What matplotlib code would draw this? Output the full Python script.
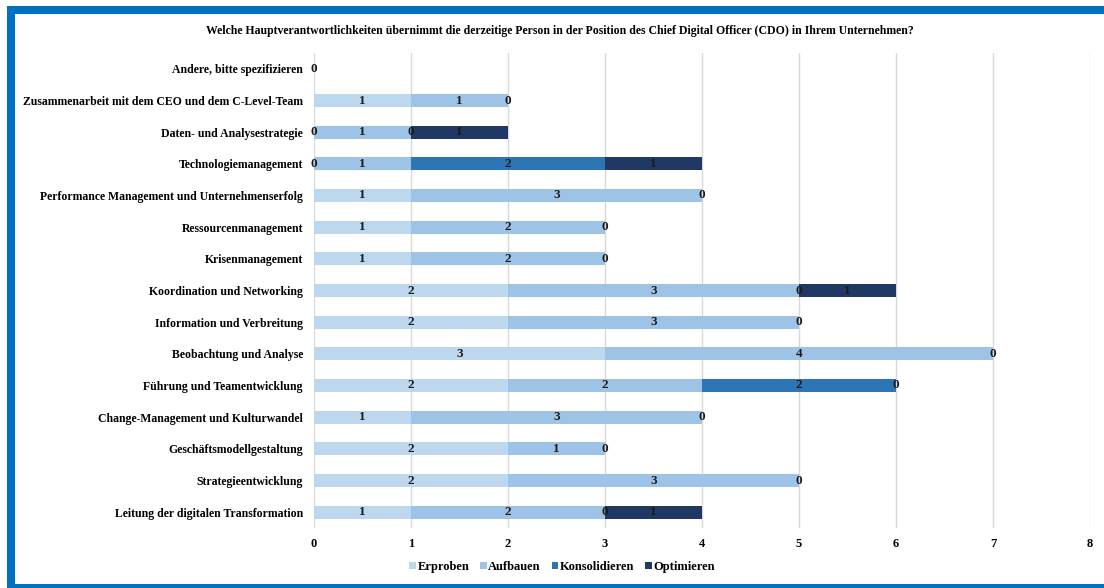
import numpy as np
import matplotlib
matplotlib.use("Agg")
import matplotlib.pyplot as plt
from matplotlib.patches import Rectangle

plt.rcParams["font.family"] = ["Liberation Serif", "DejaVu Serif"]
plt.rcParams["font.weight"] = "bold"

title = ("Welche Hauptverantwortlichkeiten übernimmt die derzeitige Person in der "
         "Position des Chief Digital Officer (CDO) in Ihrem Unternehmen?")

# Categories, listed bottom to top
categories = [
    "Leitung der digitalen Transformation",
    "Strategieentwicklung",
    "Geschäftsmodellgestaltung",
    "Change-Management und Kulturwandel",
    "Führung und Teamentwicklung",
    "Beobachtung und Analyse",
    "Information und Verbreitung",
    "Koordination und Networking",
    "Krisenmanagement",
    "Ressourcenmanagement",
    "Performance Management und Unternehmenserfolg",
    "Technologiemanagement",
    "Daten- und Analysestrategie",
    "Zusammenarbeit mit dem CEO und dem C-Level-Team",
    "Andere, bitte spezifizieren",
]

nan = np.nan
erproben      = [1, 2, 2, 1, 2, 3, 2, 2, 1, 1, 1, 0, 0, 1, 0]
aufbauen      = [2, 3, 1, 3, 2, 4, 3, 3, 2, 2, 3, 1, 1, 1, nan]
konsolidieren = [0, 0, 0, 0, 2, 0, 0, 0, 0, 0, 0, 2, 0, 0, nan]
optimieren    = [1, nan, nan, nan, 0, nan, nan, 1, nan, nan, nan, 1, 1, nan, nan]

series = [
    ("Erproben", erproben, "#BDD7EE"),
    ("Aufbauen", aufbauen, "#9DC3E6"),
    ("Konsolidieren", konsolidieren, "#2E75B6"),
    ("Optimieren", optimieren, "#1F3864"),
]

W, H = 1104, 588
fig = plt.figure(figsize=(W / 100, H / 100), dpi=100)
fig.patch.set_facecolor("white")

# Blue frame bands (top, left, bottom); the right side runs off the canvas
frame_color = "#0070C0"
for x0, y0, w, h in [(7, 6, W, 8), (7, 6, 8, H), (7, 584, W, 8)]:
    fig.patches.append(Rectangle((x0 / W, 1 - (y0 + h) / H), w / W, h / H,
                                 transform=fig.transFigure, color=frame_color,
                                 linewidth=0, zorder=0))

ax = fig.add_axes([314 / W, 1 - 528 / H, 776 / W, 475 / H])

y = np.arange(len(categories))
left = np.zeros(len(categories))
for name, vals, color in series:
    v = np.array(vals, dtype=float)
    w = np.nan_to_num(v)
    ax.barh(y, w, left=left, height=0.42, color=color, label=name, zorder=2)
    for yi, (val, l) in enumerate(zip(v, left)):
        if np.isnan(val):
            continue
        ax.text(l + val / 2, yi, f"{int(val)}", ha="center", va="center",
                fontsize=9.5, fontweight="bold", color="#1a1a1a", zorder=3)
    left = left + w

ax.set_xlim(0, 8)
ax.set_ylim(-0.5, len(categories) - 0.5)
ax.set_xticks(range(0, 9))
ax.set_yticks(y)
ax.set_yticklabels(categories)
ax.tick_params(axis="y", length=0, pad=8, labelsize=8.5)
ax.tick_params(axis="x", length=0, pad=7, labelsize=9)
for lab in ax.get_xticklabels() + ax.get_yticklabels():
    lab.set_fontweight("bold")
ax.grid(axis="x", color="#D9D9D9", linewidth=1, zorder=0)
ax.set_axisbelow(True)
for s in ax.spines.values():
    s.set_visible(False)

fig.text(0.5 + 8 / W, 1 - 31 / H, title, ha="center", va="center",
         fontsize=8.5, fontweight="bold")

fig.legend(loc="center", bbox_to_anchor=(562 / W, 1 - 567 / H), ncol=4,
           frameon=False, fontsize=9, handlelength=0.55, handleheight=0.55,
           handletextpad=0.12, columnspacing=0.85)

fig.savefig("out.png", dpi=100)
